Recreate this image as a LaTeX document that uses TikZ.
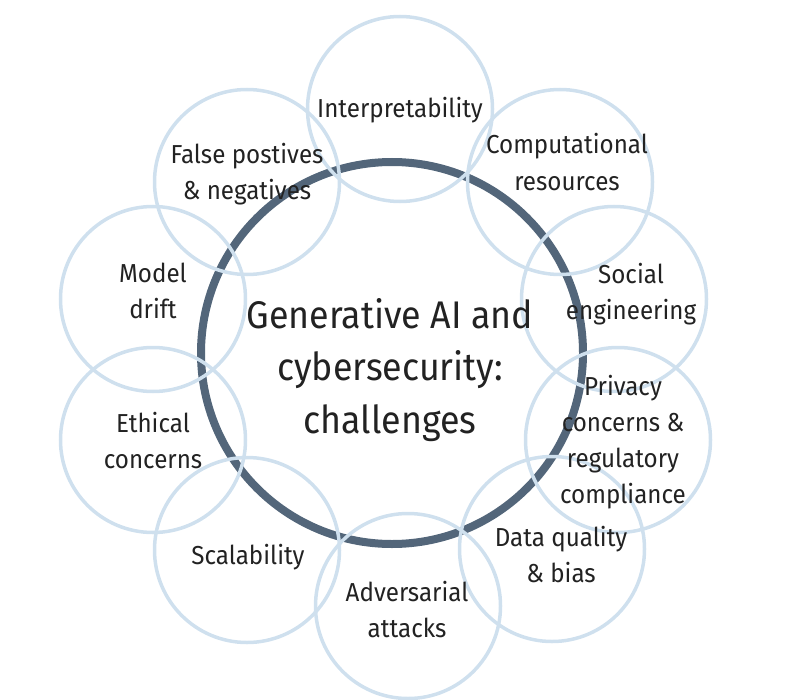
\documentclass[tikz,border=0pt]{standalone}
\usepackage{fontspec}
\setmainfont{Fira Sans}
\newfontfamily\condfont[FakeStretch=0.93]{Fira Sans}
\definecolor{ringdark}{RGB}{83,102,122}
\definecolor{ringlight}{RGB}{207,224,238}
\definecolor{txt}{RGB}{34,34,34}
\begin{document}
\begin{tikzpicture}[x=1bp,y=-1bp,
  hub/.style={circle,draw=ringdark,line width=8bp,minimum size=382bp,inner sep=0pt},
  petal/.style={circle,draw=ringlight,line width=3.5bp,minimum size=185bp,inner sep=0pt},
  lbl/.style={align=center,text=txt,inner sep=0pt,anchor=base,font=\condfont\fontsize{26bp}{36bp}\selectfont},
  hubtxt/.style={align=center,text=txt,inner sep=0pt,anchor=base,font=\condfont\fontsize{38.5bp}{52.5bp}\selectfont}]
\useasboundingbox (0,0) rectangle (800,700);
\node[hub] (hub) at (392,353) {};
\node[petal] (p1) at (400,109) {};
\node[petal] (p2) at (560,182) {};
\node[petal] (p3) at (614,299) {};
\node[petal] (p4) at (618,440) {};
\node[petal] (p5) at (552,549) {};
\node[petal] (p6) at (408,606) {};
\node[petal] (p7) at (247,550) {};
\node[petal] (p8) at (153,440) {};
\node[petal] (p9) at (153,299) {};
\node[petal] (p10) at (247,182) {};
\node[hubtxt] (ht) at (390,433) {Generative AI and\\cybersecurity:\\challenges};
\node[lbl] (t1) at (400,118) {Interpretability};
\node[lbl] (t2) at (567,190) {Computational\\resources};
\node[lbl] (t3) at (631,319) {Social\\engineering};
\node[lbl] (t4) at (623,503) {Privacy\\concerns \&\\regulatory\\compliance};
\node[lbl] (t5) at (561,582) {Data quality\\\& bias};
\node[lbl] (t6) at (407,637) {Adversarial\\attacks};
\node[lbl] (t7) at (248,564) {Scalability};
\node[lbl] (t8) at (153,468) {Ethical\\concerns};
\node[lbl] (t9) at (153,318) {Model\\drift};
\node[lbl] (t10) at (247,199) {False postives\\\& negatives};
\end{tikzpicture}
\end{document}
